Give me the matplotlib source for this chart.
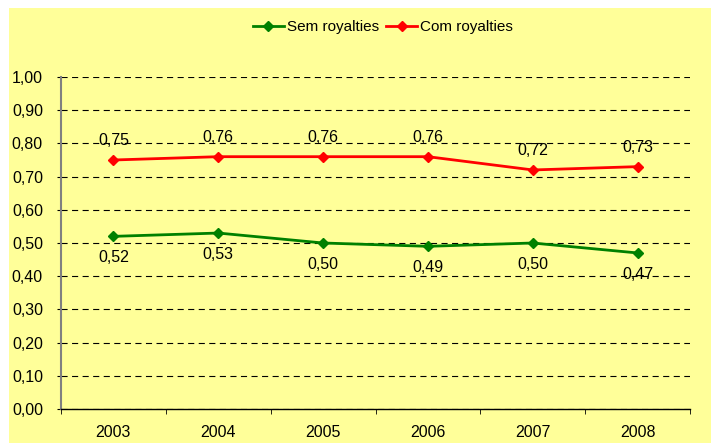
import matplotlib
matplotlib.use("Agg")
import matplotlib.pyplot as plt
from matplotlib.patches import Rectangle
from matplotlib.ticker import FixedLocator

plt.rcParams['font.family'] = ['Liberation Sans', 'DejaVu Sans']

years = ["2003", "2004", "2005", "2006", "2007", "2008"]
sem_royalties = [0.52, 0.53, 0.50, 0.49, 0.50, 0.47]
com_royalties = [0.75, 0.76, 0.76, 0.76, 0.72, 0.73]

fig = plt.figure(figsize=(7.11, 4.43), dpi=100, facecolor="white")
bg = Rectangle((9 / 711, 0), 1 - 9 / 711, 1 - 8 / 443, transform=fig.transFigure,
               facecolor="#FFFF99", edgecolor="none", zorder=-10)
fig.patches.append(bg)

ax = fig.add_axes([61 / 711, 34 / 443, (690 - 61) / 711, (409 - 77) / 443])
ax.set_facecolor("none")
ax.set_zorder(1)

x = list(range(len(years)))
ax.plot(x, sem_royalties, color="#008000", lw=2.0, marker="D", ms=5.5,
        label="Sem royalties", zorder=3)
ax.plot(x, com_royalties, color="#FF0000", lw=2.0, marker="D", ms=5.5,
        label="Com royalties", zorder=3)

def fmt(v):
    return f"{v:.2f}".replace(".", ",")

FS = 11.5
for xi, v in zip(x, com_royalties):
    ax.annotate(fmt(v), (xi, v), xytext=(0, 14), textcoords="offset points",
                ha="center", va="center", fontsize=FS, color="black")
for xi, v in zip(x, sem_royalties):
    ax.annotate(fmt(v), (xi, v), xytext=(0, -15.5), textcoords="offset points",
                ha="center", va="center", fontsize=FS, color="black")

ax.set_xlim(-0.5, len(years) - 0.5)
ax.set_ylim(0, 1.0)
yt = [v / 10 for v in range(11)]
ax.set_yticks(yt)
ax.set_yticklabels([fmt(v) for v in yt], fontsize=FS)

ax.set_xticks(x)
ax.set_xticklabels(years, fontsize=FS)
ax.xaxis.set_minor_locator(FixedLocator([i - 0.5 for i in range(len(years) + 1)]))
ax.tick_params(axis="x", which="major", length=0, pad=11.5)
ax.tick_params(axis="x", which="minor", length=3.5, direction="out", color="black")
ax.tick_params(axis="y", length=3, direction="out", color="black", pad=10)

ax.grid(axis="y", color="black", linestyle=(0, (5.5, 4)), linewidth=0.8)
ax.set_axisbelow(True)

for s in ["top", "right"]:
    ax.spines[s].set_visible(False)
ax.spines["left"].set_color("#808080")
ax.spines["left"].set_linewidth(1.5)
ax.spines["bottom"].set_color("black")
ax.spines["bottom"].set_linewidth(1.0)

fig.legend(loc="center", bbox_to_anchor=(383 / 711, 1 - 27 / 443), ncol=2,
           frameon=False, fontsize=11, handlelength=2.0, handletextpad=0.2,
           columnspacing=0.5, borderaxespad=0)

fig.savefig("out.png", dpi=100, facecolor=fig.get_facecolor())
